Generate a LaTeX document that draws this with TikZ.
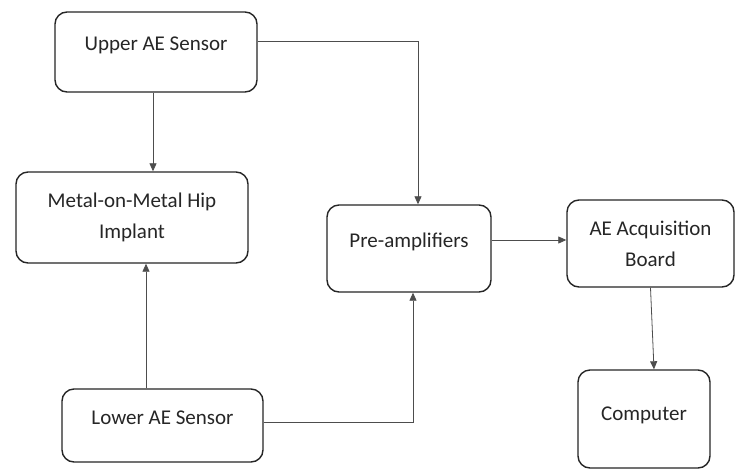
\documentclass[tikz,border=0pt]{standalone}
\usepackage{fontspec}
\setmainfont{Carlito}
\usetikzlibrary{arrows.meta}

\definecolor{boxc}{HTML}{262626}
\definecolor{linec}{HTML}{4D4D4D}
\definecolor{txtc}{HTML}{262626}

\tikzset{
 block/.style={draw=boxc, line width=1.4pt, rounded corners=12pt, inner sep=0pt,
  text=txtc, font=\fontsize{21}{31}\selectfont},
 oneline/.style={text height=15pt, text depth=17.4pt},
 twoline/.style={align=center},
 arr/.style={draw=linec, line width=0.8pt, -{Triangle[length=8pt,width=7pt]}}
}

\begin{document}
\begin{tikzpicture}[x=1pt,y=-1pt]
\useasboundingbox[fill=white] (0,0) rectangle (736,472);
% blocks
\node[block,oneline,minimum width=202pt,minimum height=80pt] (upper) at (156,52) {Upper AE Sensor};
\node[block,twoline,minimum width=232pt,minimum height=91pt] (hip) at (132,217.5) {Metal-on-Metal Hip\\Implant};
\node[block,oneline,minimum width=164pt,minimum height=87pt] (pre) at (409,248.5) {Pre-amplifiers};
\node[block,twoline,minimum width=167pt,minimum height=87pt] (acq) at (650.5,243.5) {AE Acquisition\\Board};
\node[block,oneline,minimum width=201pt,minimum height=73pt] (lower) at (162.5,425.5) {Lower AE Sensor};
\node[block,oneline,text depth=11.4pt,minimum width=132pt,minimum height=98pt] (comp) at (644,419) {Computer};
% connectors
\draw[arr] ([xshift=-3pt]upper.south) -- ([xshift=-3pt]upper.south |- hip.north);
\draw[arr] ([yshift=11pt]upper.east) -| ([xshift=9pt]pre.north);
\draw[arr] ([xshift=-16.5pt]lower.north) -- ([xshift=-16.5pt]lower.north |- hip.south);
\draw[arr] ([yshift=3.5pt]lower.east) -| ([xshift=4pt]pre.south);
\draw[arr] ([yshift=8.5pt]pre.east) -- ([yshift=8.5pt]pre.east -| acq.west);
\draw[arr] (acq.south) -- ([xshift=10pt]comp.north);
\end{tikzpicture}
\end{document}
